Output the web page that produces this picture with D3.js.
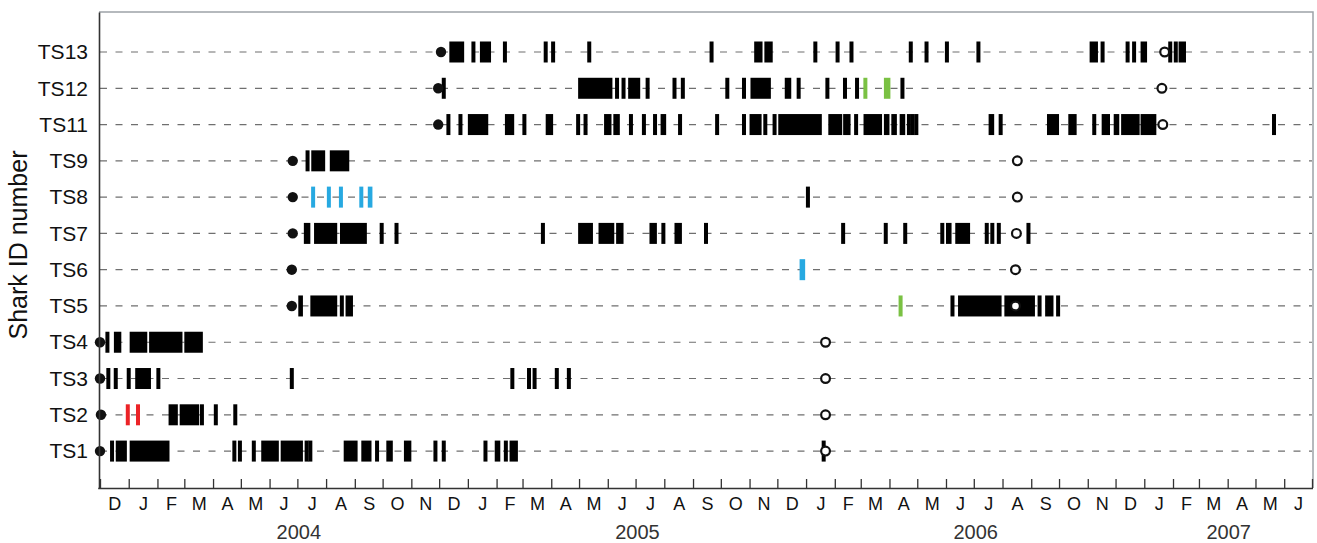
<!DOCTYPE html>
<html>
<head>
<meta charset="utf-8">
<script src="https://cdn.jsdelivr.net/npm/d3@7"></script>
<style>
  body { margin: 0; background: #fff; }
  svg { display: block; font-family: "Liberation Sans", Arial, Helvetica, sans-serif; }
</style>
</head>
<body>
<div id="chart"></div>
<script>
// shark rows, top to bottom
const sharks = ['TS13', 'TS12', 'TS11', 'TS9', 'TS8', 'TS7', 'TS6', 'TS5', 'TS4', 'TS3', 'TS2', 'TS1'];
// tagging date (filled dot) and end date (open dot), same order as sharks
const tagDates = ['2004-12-03', '2004-11-30', '2004-11-30', '2004-06-26', '2004-06-26', '2004-06-26',
    '2004-06-25', '2004-06-25', '2003-12-01', '2003-12-01', '2003-12-02', '2003-12-01'];
const endDates = ['2007-01-23', '2007-01-20', '2007-01-21', '2006-08-17', '2006-08-17', '2006-08-16',
    '2006-08-15', '2006-08-15', '2006-01-22', '2006-01-22', '2006-01-22', '2006-01-22'];

// detections: single day, or [first, last] for runs of days
const ts13 = [['2004-12-12', '2004-12-28'], '2005-01-07', ['2005-01-14', '2005-01-26'], '2005-02-10', '2005-03-26',
    '2005-04-03', '2005-05-12', '2005-09-21', ['2005-11-06', '2005-11-15'], ['2005-11-17', '2005-11-26'],
    '2006-01-11', '2006-02-04', '2006-02-19', '2006-04-24', '2006-05-11', '2006-06-02', '2006-07-06',
    ['2006-11-03', '2006-11-12'], '2006-11-17', '2006-12-14', '2006-12-21', ['2006-12-28', '2007-01-04'],
    '2007-01-29', '2007-02-04', ['2007-02-07', '2007-02-15']];
const ts12 = ['2004-12-06', ['2005-04-30', '2005-06-06'], '2005-06-11', '2005-06-18', ['2005-06-23', '2005-07-06'],
    '2005-07-14', '2005-08-12', '2005-08-21', '2005-10-08', '2005-10-26', ['2005-11-02', '2005-11-24'],
    ['2005-12-09', '2005-12-16'], '2005-12-24', '2006-01-24', '2006-02-12', '2006-02-25', '2006-04-15'];
const ts12Green = ['2006-03-06', ['2006-03-26', '2006-04-02']];
const ts11 = ['2004-12-11', '2004-12-24', ['2005-01-01', '2005-01-23'], ['2005-02-10', '2005-02-20'], '2005-03-03',
    ['2005-03-26', '2005-04-03'], '2005-04-30', '2005-05-08', ['2005-05-28', '2005-06-05'], ['2005-06-07', '2005-06-14'],
    '2005-06-26', '2005-07-10', '2005-07-22', ['2005-07-28', '2005-08-03'], '2005-08-18', '2005-09-27', '2005-10-26',
    ['2005-11-01', '2005-11-14'], '2005-11-18', '2005-11-28', ['2005-12-02', '2006-01-18'], ['2006-01-25', '2006-02-09'],
    ['2006-02-10', '2006-02-18'], '2006-02-24', ['2006-03-04', '2006-03-24'], ['2006-03-26', '2006-04-01'],
    ['2006-04-03', '2006-04-09'], ['2006-04-12', '2006-04-18'], '2006-04-22', '2006-04-26', '2006-04-30',
    ['2006-07-17', '2006-07-23'], '2006-07-30', ['2006-09-18', '2006-10-01'], ['2006-10-11', '2006-10-20'],
    '2006-11-08', ['2006-11-16', '2006-11-25'], ['2006-11-29', '2006-12-05'], ['2006-12-07', '2006-12-27'],
    ['2006-12-28', '2007-01-14'], '2007-05-21'];
const ts9 = ['2004-07-12', ['2004-07-16', '2004-07-31'], ['2004-08-05', '2004-08-26']];
const ts8 = ['2006-01-03'];
const ts8Blue = ['2004-07-18', '2004-08-04', '2004-08-17', '2004-09-08', ['2004-09-15', '2004-09-20']];
const ts7 = [['2004-07-08', '2004-07-15'], ['2004-07-19', '2004-08-13'], ['2004-08-16', '2004-09-14'], '2004-09-30',
    '2004-10-16', '2005-03-23', ['2005-04-30', '2005-05-16'], ['2005-05-22', '2005-06-08'], ['2005-06-10', '2005-06-18'],
    ['2005-07-16', '2005-07-24'], '2005-07-31', ['2005-08-12', '2005-08-20'], '2005-09-15', '2006-02-10', '2006-03-28',
    '2006-04-18', '2006-05-28', ['2006-06-01', '2006-06-07'], ['2006-06-11', '2006-06-27'], '2006-07-15',
    '2006-07-21', '2006-07-28', '2006-08-29'];
const ts6 = [];
const ts6Blue = [['2005-12-25', '2005-12-31']];
const ts5 = [['2004-07-02', '2004-07-07'], ['2004-07-15', '2004-08-13'], '2004-08-18', ['2004-08-22', '2004-08-30'],
    '2006-06-08', ['2006-06-14', '2006-07-31'], ['2006-08-03', '2006-09-05'], '2006-09-10',
    ['2006-09-16', '2006-09-25'], '2006-09-30'];
const ts5Green = ['2006-04-13'];
const ts4 = ['2003-12-09', ['2003-12-16', '2003-12-24'], ['2004-01-02', '2004-01-21'], ['2004-01-23', '2004-02-28'],
    ['2004-03-01', '2004-03-21']];
const ts3 = ['2003-12-10', '2003-12-18', '2004-01-01', ['2004-01-08', '2004-01-25'], '2004-02-02', '2004-06-25',
    '2005-02-18', '2005-03-08', '2005-03-14', '2005-04-07', '2005-04-20'];
const ts2 = [['2004-02-13', '2004-02-23'], ['2004-02-25', '2004-03-17'], '2004-03-20', '2004-04-04', '2004-04-25'];
const ts2Red = ['2003-12-31', '2004-01-11'];
const ts1 = ['2003-12-14', ['2003-12-18', '2003-12-30'], ['2004-01-02', '2004-02-14'], '2004-04-24', '2004-04-30',
    '2004-05-15', ['2004-05-23', '2004-06-11'], ['2004-06-13', '2004-07-07'], '2004-07-11', '2004-07-15',
    ['2004-08-20', '2004-09-04'], ['2004-09-08', '2004-09-19'], '2004-09-25', ['2004-10-05', '2004-10-12'],
    ['2004-10-24', '2004-11-01'], '2004-11-27', '2004-12-06', '2005-01-20', ['2005-01-30', '2005-02-05'],
    '2005-02-11', ['2005-02-15', '2005-02-24'], '2006-01-20'];

const monthLetters = ['J', 'F', 'M', 'A', 'M', 'J', 'J', 'A', 'S', 'O', 'N', 'D'];
const yearLabels = [2004, 2005, 2006, 2007];
const startDate = '2003-12-01';
const stopDate = '2007-07-01';

const COLORS = { black: '#000000', red: '#ec2327', blue: '#27a9e1', green: '#7ac143' };

const parse = d3.utcParse('%Y-%m-%d');

// table of all detection marks
const groups = [
    ['TS13', ts13, 'black'], ['TS12', ts12, 'black'], ['TS12', ts12Green, 'green'],
    ['TS11', ts11, 'black'], ['TS9', ts9, 'black'], ['TS8', ts8, 'black'], ['TS8', ts8Blue, 'blue'],
    ['TS7', ts7, 'black'], ['TS6', ts6, 'black'], ['TS6', ts6Blue, 'blue'],
    ['TS5', ts5, 'black'], ['TS5', ts5Green, 'green'], ['TS4', ts4, 'black'], ['TS3', ts3, 'black'],
    ['TS2', ts2, 'black'], ['TS2', ts2Red, 'red'], ['TS1', ts1, 'black']
];
const detections = [];
groups.forEach(([name, list, color]) => {
    list.forEach(d => {
        const single = typeof d === 'string';
        detections.push({
            name, color, single,
            start: parse(single ? d : d[0]),
            end: parse(single ? d : d[1])
        });
    });
});

const W = 1317, H = 543;
const margin = { left: 100, right: 1312, top: 12, bottom: 488 };
const barH = 21, thinW = 4;

const svg = d3.select('#chart').append('svg')
    .attr('width', W)
    .attr('height', H);

const x = d3.scaleUtc()
    .domain([parse(startDate), parse(stopDate)])
    .range([margin.left, margin.right]);
const y = d3.scalePoint()
    .domain(sharks)
    .range([margin.top, margin.bottom])
    .padding(1.06)
    .align(0.52);

// frame (top and right in grey)
svg.append('path')
    .attr('d', `M${margin.left - 1},${margin.top}H${margin.right + 1}V${margin.bottom}`)
    .attr('fill', 'none')
    .attr('stroke', '#9da3a8')
    .attr('stroke-width', 1.5);

// dashed guide per shark
svg.append('g').selectAll('line')
    .data(sharks)
    .join('line')
    .attr('x1', margin.left)
    .attr('x2', margin.right)
    .attr('y1', d => y(d))
    .attr('y2', d => y(d))
    .attr('stroke', '#6f6f6f')
    .attr('stroke-width', 1.2)
    .attr('stroke-dasharray', '7,8.5');

// detection bars
svg.append('g').selectAll('rect')
    .data(detections)
    .join('rect')
    .attr('x', d => d.single ? x(d.start) - thinW / 2 : x(d.start))
    .attr('width', d => d.single ? thinW : Math.max(x(d.end) - x(d.start), thinW))
    .attr('y', d => y(d.name) - barH / 2)
    .attr('height', barH)
    .attr('fill', d => COLORS[d.color]);

// tag (filled) and end (open) markers
svg.append('g').selectAll('circle')
    .data(sharks)
    .join('circle')
    .attr('cx', (d, i) => x(parse(tagDates[i])))
    .attr('cy', d => y(d))
    .attr('r', 5.2)
    .attr('fill', '#111');
svg.append('g').selectAll('circle')
    .data(sharks)
    .join('circle')
    .attr('cx', (d, i) => x(parse(endDates[i])))
    .attr('cy', d => y(d))
    .attr('r', 4.4)
    .attr('fill', '#fff')
    .attr('stroke', '#111')
    .attr('stroke-width', 2.2);

// y axis
const yAxisG = svg.append('g')
    .attr('transform', `translate(${margin.left - 1},0)`)
    .call(d3.axisLeft(y).tickSize(0).tickPadding(11));
yAxisG.select('.domain').attr('stroke', '#333').attr('stroke-width', 1.6);
yAxisG.selectAll('text').attr('font-size', 21).attr('fill', '#111').attr('font-family', null);

// bottom axis: month ticks pointing inward
const monthStarts = d3.utcMonth.range(parse(startDate), d3.utcDay.offset(parse(stopDate), 1));
const xAxisG = svg.append('g')
    .attr('transform', `translate(0,${margin.bottom})`)
    .call(d3.axisBottom(x).tickValues(monthStarts).tickSizeInner(-9).tickSizeOuter(0).tickFormat(''));
xAxisG.select('.domain').attr('stroke', '#333').attr('stroke-width', 1.6)
    .attr('d', `M${margin.left - 1.8},0.5H${margin.right + 1}`);
xAxisG.selectAll('.tick line').attr('stroke', '#333').attr('stroke-width', 1.3);

// month letters centred in each month
const monthMids = monthStarts.slice(0, -1).map(m => new Date((+m + +d3.utcMonth.offset(m, 1)) / 2));
const monthG = svg.append('g')
    .attr('transform', `translate(0,${margin.bottom})`)
    .call(d3.axisBottom(x).tickValues(monthMids).tickSize(0).tickPadding(9.5)
        .tickFormat(d => monthLetters[d.getUTCMonth()]));
monthG.select('.domain').remove();
monthG.selectAll('text').attr('font-size', 18).attr('fill', '#111').attr('font-family', null);

// year labels centred on the visible part of each year
const yearMids = yearLabels.map(yr => {
    const a = Math.max(+Date.UTC(yr, 0, 1), +parse(startDate));
    const b = Math.min(+Date.UTC(yr + 1, 0, 1), +parse(stopDate));
    return new Date((a + b) / 2);
});
const yearG = svg.append('g')
    .attr('transform', `translate(0,${margin.bottom})`)
    .call(d3.axisBottom(x).tickValues(yearMids).tickSize(0).tickPadding(37)
        .tickFormat(d => yearLabels[yearMids.indexOf(d)]));
yearG.select('.domain').remove();
yearG.selectAll('text').attr('font-size', 20).attr('fill', '#333').attr('font-family', null);

// y title
svg.append('text')
    .attr('transform', 'translate(27,245) rotate(-90)')
    .attr('text-anchor', 'middle')
    .attr('font-size', 25)
    .attr('fill', '#111')
    .text('Shark ID number');
</script>
</body>
</html>
